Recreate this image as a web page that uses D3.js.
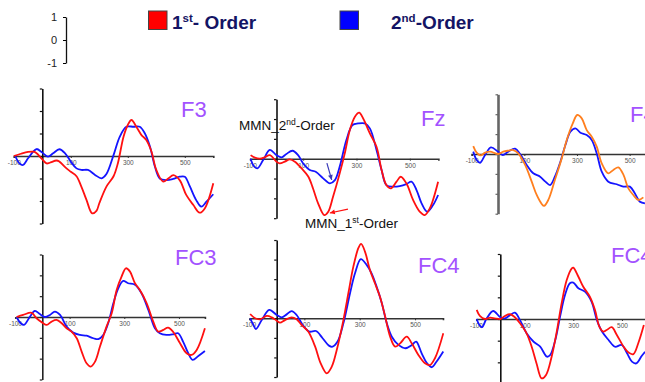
<!DOCTYPE html>
<html><head><meta charset="utf-8">
<script src="https://cdn.jsdelivr.net/npm/d3@7"></script>
<style>body{margin:0;background:#fff}svg{display:block;font-family:"Liberation Sans",Arial,sans-serif}</style>
</head><body>
<svg id="c" width="645" height="382"></svg>
<script>
// ---------- DATA (time in ms, amplitude in µV) ----------
const seriesNames = ["1st- Order", "2nd-Order"];
const xTickValues = [-100, 100, 300, 500];
const xTickLabels = ["-100", "100", "300", "500"];
const scaleBarTicks = [1, 0, -1];
const scaleBarLabels = ["1", "0", "-1"];

const F3_first = [[-100,0],[-75,0.1],[-50,0.18],[-30,0.19],[-20,0.12],[0,-0.15],[15,-0.33],[26,-0.3],[50,-0.2],[60,-0.25],[85,-0.55],[100,-0.7],[120,-0.9],[137,-1.36],[155,-1.95],[175,-2.55],[190,-2.44],[200,-2.1],[225,-1.36],[250,-0.9],[265,-0.33],[285,0.86],[300,1.38],[313,1.6],[330,1.3],[348,0.93],[365,0.71],[383,0.2],[400,-0.62],[424,-1.14],[442,-1.0],[460,-0.85],[482,-1.07],[505,-1.73],[530,-2.18],[552,-2.52],[570,-2.33],[600,-1.21]];
const F3_second = [[-95,0],[-80,-0.33],[-68,-0.4],[-50,-0.1],[-32,0.19],[-20,0.31],[0,0.15],[20,-0.03],[38,0.12],[60,0.3],[80,0.12],[100,-0.25],[120,-0.55],[137,-0.62],[160,-0.62],[185,-0.84],[208,-0.99],[225,-0.8],[250,0.04],[272,0.86],[295,1.3],[320,1.3],[342,1.3],[360,1.0],[378,0.41],[395,-0.47],[412,-1.0],[435,-1.07],[459,-1.02],[482,-0.92],[500,-0.92],[517,-1.33],[540,-1.96],[558,-2.25],[576,-2.03],[600,-1.7]];

const Fz_first = [[-97,0.18],[-81,0.05],[-62,0],[-44,0.07],[-25,0.18],[0,-0.15],[12,-0.24],[31,-0.15],[50,-0.03],[69,-0.15],[94,-0.49],[119,-0.9],[137,-1.5],[156,-2.25],[179,-2.84],[194,-2.67],[212,-1.92],[237,-0.74],[256,0.27],[275,1.45],[294,2.12],[310,2.32],[325,2.03],[350,1.28],[375,0.6],[394,-0.57],[412,-1.33],[429,-1.5],[450,-1.16],[466,-0.91],[487,-1.24],[512,-2.08],[537,-2.67],[556,-2.84],[575,-2.5],[606,-1.16]];
const Fz_second = [[-97,0],[-85,-0.37],[-72,-0.49],[-50,-0.07],[-25,0.44],[0,0.18],[19,0.07],[37,0.24],[60,0.4],[81,0.18],[100,-0.24],[125,-0.57],[147,-0.66],[175,-0.99],[200,-1.24],[219,-1.08],[237,-0.4],[262,0.94],[285,1.7],[306,1.78],[331,1.78],[350,1.53],[375,0.44],[394,-0.57],[412,-1.33],[437,-1.41],[462,-1.38],[487,-1.28],[506,-1.16],[525,-1.58],[544,-2.25],[565,-2.67],[587,-2.34],[606,-1.83]];

const F4_first = [[-94,0.4],[-81,0.07],[-66,-0.07],[-49,0.07],[-30,0.12],[0,0],[20,0.12],[39,0.17],[58,0.2],[77,0.03],[103,-0.55],[128,-1.39],[147,-2.06],[166,-2.51],[175,-2.61],[191,-2.31],[216,-1.31],[242,-0.22],[261,0.7],[284,1.54],[301,1.96],[318,1.79],[337,1.2],[356,0.87],[375,0.37],[394,-0.47],[419,-0.97],[438,-0.8],[457,-0.67],[477,-1.06],[495,-1.73],[514,-2.06],[533,-2.31],[552,-2.18]];
const F4_second = [[-94,0.12],[-81,-0.3],[-68,-0.44],[-49,-0.05],[-27,0.33],[0,0.12],[18,-0.05],[39,0.12],[65,0.27],[84,0.0],[109,-0.55],[134,-0.97],[160,-1.14],[180,-1.39],[198,-1.56],[216,-1.14],[235,-0.47],[256,0.45],[275,1.12],[294,1.29],[313,1.07],[337,0.95],[356,0.7],[375,0.03],[394,-0.89],[419,-1.39],[451,-1.52],[476,-1.64],[501,-1.64],[520,-1.98],[539,-2.4],[558,-2.48]];

const FC3_first = [[-94,0],[-70,0.1],[-39,0.2],[-21,-0.06],[0,-0.27],[16,-0.38],[34,-0.22],[52,-0.14],[71,-0.3],[89,-0.54],[107,-0.7],[126,-1.02],[144,-1.66],[162,-2.22],[177,-2.38],[193,-2.14],[211,-1.42],[235,-0.46],[254,0.18],[272,1.3],[290,1.94],[306,2.34],[321,2.18],[339,1.62],[357,1.3],[382,0.66],[406,-0.22],[424,-0.7],[443,-0.62],[460,-0.51],[478,-0.7],[504,-1.26],[528,-1.74],[546,-1.82],[565,-1.58],[595,-0.54]];
const FC3_second = [[-94,0],[-79,-0.3],[-67,-0.38],[-45,0.02],[-27,0.29],[-9,0.14],[10,0],[28,0.1],[46,0.26],[65,0.1],[89,-0.46],[113,-0.75],[138,-0.86],[162,-0.9],[187,-1.02],[205,-1.06],[223,-0.86],[241,-0.3],[260,0.66],[278,1.38],[296,1.73],[314,1.62],[339,1.55],[363,1.14],[388,0.34],[412,-0.54],[430,-0.78],[454,-0.86],[479,-0.83],[497,-0.78],[515,-1.18],[534,-1.74],[550,-2.06],[571,-1.87],[595,-1.63]];

const FC4_first = [[-96,0.22],[-78,0],[-60,-0.05],[-36,0.12],[-18,0.05],[0,-0.12],[12,-0.22],[30,-0.09],[54,0.05],[72,-0.05],[90,-0.34],[114,-0.68],[139,-1.45],[159,-2.3],[181,-2.81],[199,-2.47],[217,-1.62],[241,-0.09],[259,1.28],[277,2.64],[295,3.58],[305,3.8],[319,3.41],[337,2.47],[355,1.79],[373,1.11],[392,0.09],[410,-0.94],[428,-1.45],[446,-1.28],[470,-0.94],[488,-1.28],[512,-1.87],[536,-2.3],[554,-2.39],[572,-2.04],[602,-0.77]];
const FC4_second = [[-96,0],[-84,-0.34],[-75,-0.55],[-54,-0.09],[-27,0.43],[0,0.17],[18,0.05],[36,0.2],[54,0.37],[72,0.17],[94,-0.34],[118,-0.68],[142,-0.65],[166,-1.02],[190,-1.41],[202,-1.45],[220,-1.19],[241,-0.26],[265,1.28],[283,2.3],[304,3.02],[325,2.73],[343,2.3],[361,1.62],[380,0.77],[398,-0.26],[416,-0.94],[440,-1.36],[465,-1.53],[489,-1.36],[504,-1.19],[524,-1.79],[542,-2.27],[560,-2.5],[578,-2.21],[602,-1.7]];

const FC4b_first = [[-97,0.42],[-84,0.14],[-63,0],[-42,0.06],[-22,0.03],[0,0],[19,0.14],[40,0.22],[60,0.08],[81,-0.2],[108,-0.66],[129,-1.28],[149,-2.05],[170,-2.74],[188,-2.58],[211,-1.74],[232,-0.58],[252,0.72],[273,1.8],[294,2.34],[300,2.37],[321,1.95],[341,1.49],[368,1.03],[389,0.42],[407,-0.35],[423,-0.58],[437,-0.51],[458,-0.38],[479,-0.74],[507,-1.28],[527,-1.55],[547,-1.62],[567,-1.12],[590,-0.28]];
const FC4b_second = [[-97,0],[-86,-0.28],[-75,-0.38],[-56,0.03],[-29,0.37],[0,0.08],[19,0.03],[40,0.18],[60,0.29],[81,-0.05],[108,-0.66],[137,-1.05],[164,-1.28],[192,-1.74],[205,-1.66],[226,-0.97],[247,0.18],[266,1.11],[286,1.65],[300,1.68],[321,1.42],[348,1.26],[375,0.8],[397,-0.05],[418,-0.58],[445,-0.97],[471,-1.28],[499,-1.2],[521,-1.58],[541,-1.97],[559,-2.05],[581,-1.71],[595,-1.51]];

// ---------- LAYOUT ----------
const panels = [
  {title:"F3",  first:F3_first,  second:F3_second,  x0:42.3,  per100:28.5,  zeroY:156,   unit:22.5,  yDom:[-3,3], xDom:[-100,600], tx:181, ty:117, c1:"#ff1010", yAxisCol:"#111", yAxisW:1.6},
  {title:"Fz",  first:Fz_first,  second:Fz_second,  x0:276.5, per100:26.67, zeroY:158.7, unit:19.83, yDom:[-3,3], xDom:[-98,607],  tx:421, ty:126, c1:"#ff1010", yAxisCol:"#111", yAxisW:1.6},
  {title:"F4",  first:F4_first,  second:F4_second,  x0:498,   per100:26.33, zeroY:154,   unit:19.9,  yDom:[-3,3], xDom:[-100,620], tx:630, ty:122, c1:"#ff7f1e", yAxisCol:"#666", yAxisW:2.6},
  {title:"FC3", first:FC3_first, second:FC3_second, x0:42.3,  per100:27.33, zeroY:317,   unit:20.83, yDom:[-3,3], xDom:[-94,595],  tx:175, ty:265, c1:"#ff1010", yAxisCol:"#222", yAxisW:1.6},
  {title:"FC4", first:FC4_first, second:FC4_second, x0:276.7, per100:27.67, zeroY:318.3, unit:19.57, yDom:[-3,4], xDom:[-96,601],  tx:418, ty:273, c1:"#ff1010", yAxisCol:"#111", yAxisW:1.6},
  {title:"FC4", first:FC4b_first,second:FC4b_second,x0:500.3, per100:24.33, zeroY:319,   unit:21.67, yDom:[-3,3], xDom:[-97,620],  tx:611, ty:263, c1:"#ff1010", yAxisCol:"#111", yAxisW:1.6}
];
const blueCol = "#1414ff";

const svg = d3.select("#c");

panels.forEach((p, i) => {
  const x = d3.scaleLinear().domain(p.xDom)
    .range(p.xDom.map(t => p.x0 + t * p.per100 / 100));
  const y = d3.scaleLinear().domain(p.yDom)
    .range(p.yDom.map(v => p.zeroY - v * p.unit));
  p.x = x; p.y = y;
  const g = svg.append("g");

  // x axis (zero line)
  const xa = g.append("g").attr("transform", `translate(0,${y(0)})`)
    .call(d3.axisBottom(x).tickValues(xTickValues).tickSize(2)
      .tickFormat((d, k) => xTickLabels[k]));
  xa.select(".domain").attr("stroke", "#333").attr("stroke-width", 1.6);
  xa.selectAll(".tick line").attr("stroke", "#333");
  xa.selectAll(".tick text").attr("font-size", 6.5).attr("fill", "#555")
    .attr("dy", 0).attr("y", 9).attr("font-family", "Liberation Sans, Arial, sans-serif");

  // y axis
  const ya = g.append("g").attr("transform", `translate(${x(0)},0)`)
    .call(d3.axisLeft(y).tickValues(d3.range(p.yDom[0], p.yDom[1] + 1)).tickSize(2.5).tickSizeOuter(0).tickFormat(""));
  ya.select(".domain").attr("stroke", p.yAxisCol).attr("stroke-width", p.yAxisW);
  ya.selectAll(".tick line").attr("stroke", p.yAxisCol).attr("stroke-width", 1.2);

  // curves
  const line = d3.line().x(d => x(d[0])).y(d => y(d[1])).curve(d3.curveCatmullRom.alpha(0.5));
  g.append("path").datum(p.second).attr("d", line).attr("fill", "none")
    .attr("stroke", blueCol).attr("stroke-width", 1.8);
  g.append("path").datum(p.first).attr("d", line).attr("fill", "none")
    .attr("stroke", p.c1).attr("stroke-width", 1.8);

  // title
  g.append("text").attr("x", p.tx).attr("y", p.ty).text(p.title)
    .attr("font-size", 22).attr("fill", "#a352ff");
});

// ---------- Fz annotations ----------
const pz = panels[1];
function arrow(x1, y1, x2, y2, col) {
  const a = Math.atan2(y2 - y1, x2 - x1), L = 5, W = 2.4;
  svg.append("line").attr("x1", x1).attr("y1", y1).attr("x2", x2).attr("y2", y2)
    .attr("stroke", col).attr("stroke-width", 1.2);
  const bx = x2 - L * Math.cos(a), by = y2 - L * Math.sin(a);
  svg.append("path").attr("fill", col)
    .attr("d", `M${x2},${y2}L${bx - W * Math.sin(a)},${by + W * Math.cos(a)}L${bx + W * Math.sin(a)},${by - W * Math.cos(a)}Z`);
}
arrow(pz.x(189), pz.y(-0.22), pz.x(207), pz.y(-1.07), "#3a3ab8");
arrow(pz.x(268), pz.y(-2.54), pz.x(200), pz.y(-2.74), "#ff1010");

const t2 = svg.append("text").attr("x", 239).attr("y", 130).attr("font-size", 13.5).attr("fill", "#111");
t2.append("tspan").text("MMN_2");
t2.append("tspan").text("nd").attr("font-size", 8.5).attr("dy", -5);
t2.append("tspan").text("-Order").attr("dy", 5);

const t1 = svg.append("text").attr("x", 305).attr("y", 228).attr("font-size", 13.5).attr("fill", "#111");
t1.append("tspan").text("MMN_1");
t1.append("tspan").text("st").attr("font-size", 8.5).attr("dy", -5);
t1.append("tspan").text("-Order").attr("dy", 5);

// ---------- Scale bar ----------
const sb = d3.scaleLinear().domain([-1, 1]).range([63, 17]);
const sbg = svg.append("g").attr("transform", "translate(66,0)")
  .call(d3.axisLeft(sb).tickValues(scaleBarTicks).tickSize(3).tickSizeOuter(0)
    .tickFormat((d, k) => scaleBarLabels[k]));
sbg.select(".domain").attr("stroke", "#111").attr("stroke-width", 1.3);
sbg.selectAll(".tick text").attr("font-size", 11).attr("fill", "#222").attr("x", -9)
  .attr("font-family", "Liberation Sans, Arial, sans-serif");

// ---------- Legend ----------
const legend = [
  {col:"#ff0000", rx:148.5, tx:172, main:["1", "st", "- Order"]},
  {col:"#0000ff", rx:340,   tx:391, main:["2", "nd", "-Order"]}
];
legend.forEach((l, k) => {
  svg.append("rect").attr("x", l.rx).attr("y", 11).attr("width", 18.5).attr("height", 18.5)
    .attr("fill", l.col).attr("stroke", "#444").attr("stroke-width", 1);
  const t = svg.append("text").attr("x", l.tx).attr("y", 29).attr("font-size", 19)
    .attr("font-weight", "bold").attr("fill", "#141464");
  t.append("tspan").text(l.main[0]);
  t.append("tspan").text(l.main[1]).attr("font-size", 11.5).attr("dy", -7);
  t.append("tspan").text(l.main[2]).attr("dy", 7);
});
</script>
</body></html>
